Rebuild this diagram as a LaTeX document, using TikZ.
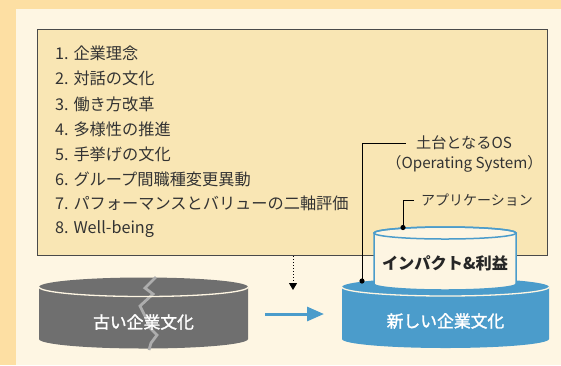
\documentclass[tikz,border=0pt]{standalone}
\usepackage{fontspec}
\setmainfont{Noto Sans CJK JP}
\newfontfamily\medfont{Noto Sans CJK JP}[FakeBold=1.6]
\usetikzlibrary{arrows.meta}
\definecolor{bgorange}{HTML}{FDDFA3}
\definecolor{panel}{HTML}{FEF6E3}
\definecolor{boxfill}{HTML}{F9E6B4}
\definecolor{boxline}{HTML}{4A4A4A}
\definecolor{txt}{HTML}{333333}
\definecolor{oldgray}{HTML}{6F6F6F}
\definecolor{crackgray}{HTML}{ADADAD}
\definecolor{newblue}{HTML}{4B9CCB}
\definecolor{appfill}{HTML}{FDF5E2}
\tikzset{
  listitem/.style={anchor=west, inner sep=0pt, text=txt, font=\fontsize{16.2}{18}\selectfont},
  annot/.style={inner sep=0pt, text=txt, font=\fontsize{15.2}{17}\selectfont},
  cyltext/.style={inner sep=0pt, text=white, font=\fontsize{16.8}{19}\medfont},
  leader/.style={draw=black, line width=0.8pt},
}
\begin{document}
\begin{tikzpicture}[x=1pt,y=-1pt]
\fill[bgorange] (0,0) rectangle (561,365);
\useasboundingbox (0,0) rectangle (561,365);
\fill[panel] (16,9) rectangle (561,365);

% list box
\node[draw=boxline, fill=boxfill, line width=1pt, minimum width=510pt, minimum height=226pt,
      anchor=north west, inner sep=0pt] (listbox) at (37,29) {};
\node[listitem] (i1) at (55,53) {1. 企業理念};
\node[listitem] (i2) at (55,78.5) {2. 対話の文化};
\node[listitem] (i3) at (55,104) {3. 働き方改革};
\node[listitem] (i4) at (55,129) {4. 多様性の推進};
\node[listitem] (i5) at (55,154) {5. 手挙げの文化};
\node[listitem] (i6) at (55,179) {6. グループ間職種変更異動};
\node[listitem] (i7) at (55,203.5) {7. パフォーマンスとバリューの二軸評価};
\node[listitem] (i8) at (55,229) {8. Well-being};

% old cylinder
\fill[oldgray] (39,287) arc[start angle=180,end angle=0,x radius=104.5pt,y radius=9.5pt]
  -- (248,339) arc[start angle=0,end angle=-180,x radius=104.5pt,y radius=9.5pt] -- cycle;
\draw[crackgray, line width=2.8pt, line join=miter]
  (156,277) -- (145,288) -- (153,294) -- (140,306) -- (145,316) -- (150,328) -- (157,335) -- (151,343) -- (149,350);
\draw[panel, line width=1.3pt] (39,287) arc[start angle=180,end angle=360,x radius=104.5pt,y radius=9.5pt];
\node[cyltext] (oldtxt) at (143.5,322) {古い企業文化};

% new cylinder
\fill[newblue] (342,287) arc[start angle=180,end angle=0,x radius=103.5pt,y radius=9pt]
  -- (549,339) arc[start angle=0,end angle=-180,x radius=103.5pt,y radius=9pt] -- cycle;
\draw[panel, line width=1.3pt] (342,287) arc[start angle=180,end angle=360,x radius=103.5pt,y radius=9pt];
\node[cyltext] (newtxt) at (445.5,321) {新しい企業文化};

% application cylinder
\filldraw[fill=appfill, draw=newblue, line width=1.5pt] (374,233) -- (374,284)
  arc[start angle=180,end angle=360,x radius=71pt,y radius=6pt] -- (516,233)
  arc[start angle=0,end angle=180,x radius=71pt,y radius=6pt] -- cycle;
\draw[newblue, line width=1.5pt] (445,233) ellipse[x radius=71pt, y radius=6pt];
\node[inner sep=0pt, text=black!85, font=\fontsize{16.2}{19}\selectfont\bfseries] (apptxt) at (445,263) {インパクト\&利益};

% annotations
\node[annot] (os1) at (464,143) {土台となるOS};
\node[annot] (os2) at (464.5,164) {（Operating System）};
\node[annot, anchor=west, font=\fontsize{14}{17}\selectfont] (app) at (421,200) {アプリケーション};
\coordinate (osdot) at (362,281);
\coordinate (appdot) at (403,227.5);
\draw[leader] ([xshift=-10pt]os1.west) -| (osdot);
\draw[leader] ([xshift=-7pt]app.west) -| (appdot);
\fill (osdot) circle (2.6pt);
\fill (appdot) circle (2.6pt);

% arrows
\coordinate (a1) at (265,314);
\coordinate (a2) at (324,314);
\draw[newblue, line width=3pt, -{Triangle[length=17pt,width=14pt]}] (a1) -- (a2);
\coordinate (d1) at (293,256);
\coordinate (d2) at (293,290);
\draw[black, line width=1pt, dash pattern=on 1pt off 2pt, -{Triangle[length=7pt,width=8pt]}] (d1) -- (d2);
\end{tikzpicture}
\end{document}
